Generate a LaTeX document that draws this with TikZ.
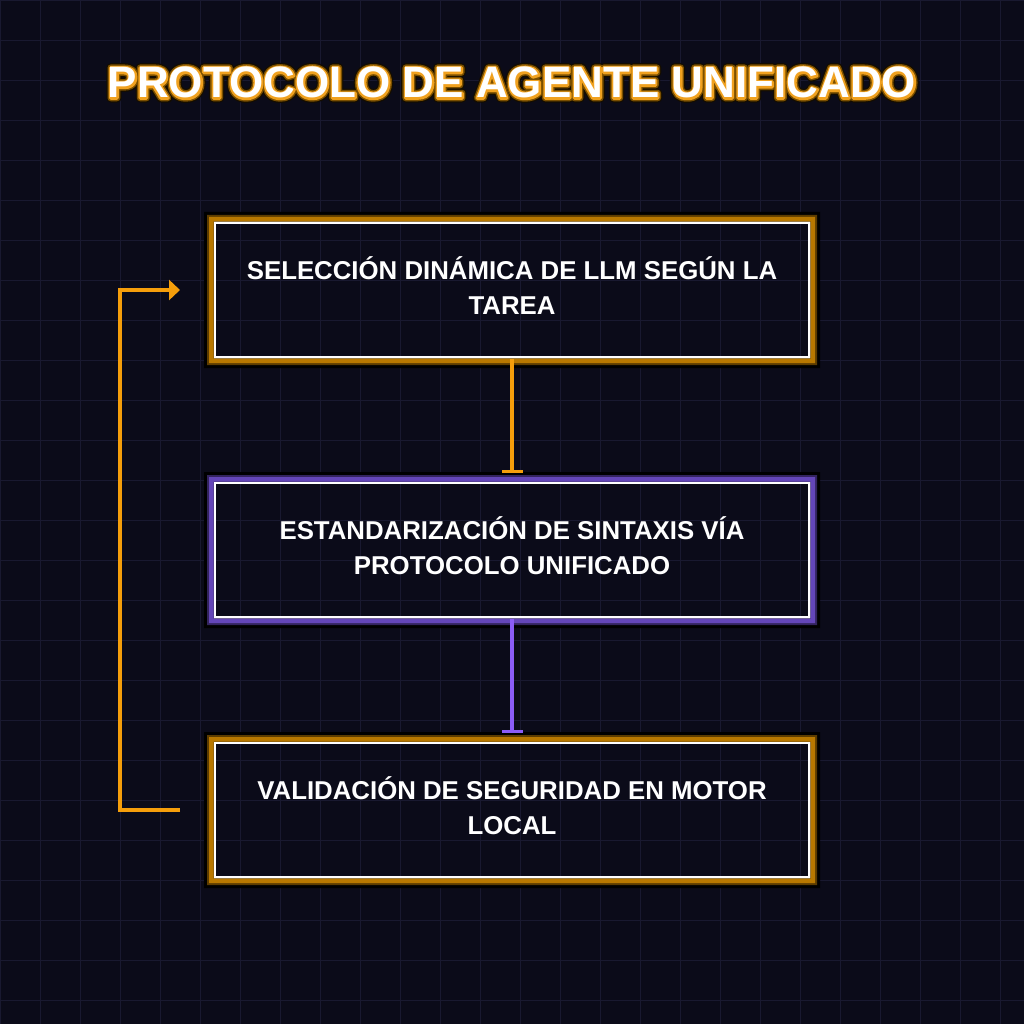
\documentclass[tikz,border=0pt]{standalone}
\usepackage{fontspec}
\setmainfont{Liberation Sans}
\usetikzlibrary{arrows.meta,calc}
\definecolor{bg}{HTML}{0B0B19}
\definecolor{gridc}{HTML}{191930}
\definecolor{amber}{HTML}{F59E0B}
\definecolor{violet}{HTML}{8B5CF6}
\definecolor{amberdark}{HTML}{5C3C00}
\definecolor{ambermid}{HTML}{B87800}
\definecolor{violetdark}{HTML}{33245E}
\definecolor{violetmid}{HTML}{6446B8}
\newcommand\cardglow[3]{%
  \fill[black,even odd rule] ($(#1.north west)+(-9.5,-9.5)$) rectangle ($(#1.south east)+(9.5,9.5)$) (#1.north west) rectangle (#1.south east);
  \fill[#2,even odd rule] ($(#1.north west)+(-6.5,-6.5)$) rectangle ($(#1.south east)+(6.5,6.5)$) (#1.north west) rectangle (#1.south east);
  \fill[#3,even odd rule] ($(#1.north west)+(-4.5,-4.5)$) rectangle ($(#1.south east)+(4.5,4.5)$) (#1.north west) rectangle (#1.south east);
}
% outlined text: #1 stroke width (bp), #2 stroke rgb, #3 text
\newcommand\strokedtext[3]{\special{pdf:literal direct #1 w 1 j #2 RG 1 Tr}#3\special{pdf:literal direct 0 Tr}}
\begin{document}
\begin{tikzpicture}[x=1pt,y=-1pt,
  card/.style={rectangle, minimum width=597pt, minimum height=137pt, outer sep=0pt, inner sep=0pt,
    draw=white, line width=5pt},
  cardtext/.style={text=white, align=center, inner sep=0pt,
    font=\bfseries\fontsize{25.8}{35}\selectfont},
  titletext/.style={font=\bfseries\fontsize{44}{50}\selectfont, anchor=base, inner sep=0pt},
  conn/.style={#1, line width=4pt, -{Rectangle[length=2.5pt,width=21pt]}},
  loopline/.style={amber, line width=4pt, -{Triangle[length=11pt,width=20pt]}}
]
\fill[bg] (0,0) rectangle (1024,1024);
\useasboundingbox (0,0) rectangle (1024,1024);
\draw[gridc, line width=1pt] foreach \k in {0,40,...,1000} {(\k+0.5,0) -- (\k+0.5,1024) (0,\k+0.5) -- (1024,\k+0.5)};

% title with glow (stroked copies)
\node[titletext, text=white] (tglowa) at (512,98) {\strokedtext{9}{0.08 0.05 0}{PROTOCOLO DE AGENTE UNIFICADO}};
\node[titletext, text=white] (tglowb) at (512,98) {\strokedtext{6.5}{0.48 0.31 0}{PROTOCOLO DE AGENTE UNIFICADO}};
\node[titletext, text=white] (tglowc) at (512,98) {\strokedtext{3.6}{0.94 0.63 0.12}{PROTOCOLO DE AGENTE UNIFICADO}};
\node[titletext, text=white] (title) at (512,98) {PROTOCOLO DE AGENTE UNIFICADO};

% cards
\node[card] (b1) at (512,290) {};
\node[card] (b2) at (512,550) {};
\node[card] (b3) at (512,810) {};
\cardglow{b1}{amberdark}{ambermid}
\cardglow{b2}{violetdark}{violetmid}
\cardglow{b3}{amberdark}{ambermid}
\node[cardtext] (t1) at ($(b1.center)+(0,-4)$) {SELECCIÓN DINÁMICA DE LLM SEGÚN LA\\TAREA};
\node[cardtext] (t2) at ($(b2.center)+(0,-4)$) {ESTANDARIZACIÓN DE SINTAXIS VÍA\\PROTOCOLO UNIFICADO};
\node[cardtext] (t3) at ($(b3.center)+(0,-4)$) {VALIDACIÓN DE SEGURIDAD EN MOTOR\\LOCAL};

% connectors
\draw[conn=amber] (b1.south) -- ($(b2.north)+(0,-9)$);
\draw[conn=violet] (b2.south) -- ($(b3.north)+(0,-9)$);
\draw[loopline] ($(b3.west)+(-33.5,0)$) -- ++(-60,0) |- ($(b1.west)+(-33.5,0)$);
\end{tikzpicture}
\end{document}
